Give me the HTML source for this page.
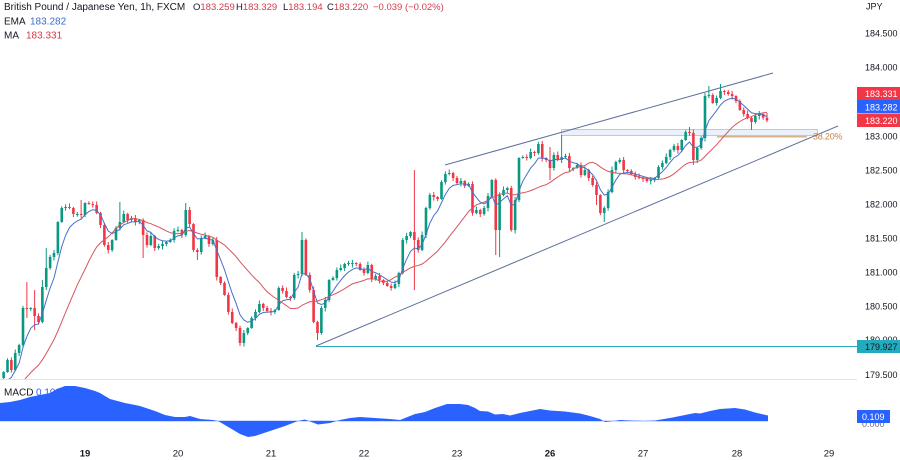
<!DOCTYPE html>
<html><head><meta charset="utf-8">
<style>
html,body{margin:0;padding:0;background:#fff}
body{width:900px;height:460px;overflow:hidden}
svg{display:block}
text{font-family:"Liberation Sans",Arial,sans-serif}
</style></head><body>
<svg id="svg" width="900" height="460" viewBox="0 0 900 460" xmlns="http://www.w3.org/2000/svg">
<defs>
<clipPath id="cm"><rect x="0" y="0" width="857" height="379.5"/></clipPath>
<clipPath id="cb"><rect x="0" y="380" width="857" height="62"/></clipPath>
</defs>
<rect width="900" height="460" fill="#fff"/>

<g clip-path="url(#cm)">
  <rect x="561.5" y="129.5" width="256" height="6" fill="#eaf1fa" stroke="#b9cbe2" stroke-width="1"/>
  <line x1="717" y1="136.8" x2="807" y2="136.8" stroke="#d8b48c" stroke-width="1.5"/>
  <g id="candles"></g>
  <path id="ma" fill="none" stroke="#d6555f" stroke-width="1"/>
  <path id="ema" fill="none" stroke="#4670c8" stroke-width="1"/>
  <line x1="316" y1="346.5" x2="857" y2="346.5" stroke="#2aa9bb" stroke-width="1"/>
  <line x1="445" y1="165" x2="773" y2="73" stroke="#5d6f9c" stroke-width="1"/>
  <line x1="316" y1="346" x2="838" y2="126" stroke="#5d6f9c" stroke-width="1"/>
</g>
<text x="813" y="139.5" font-size="9" letter-spacing="-0.2" fill="#c8843f">38.20%</text>

<!-- legend -->
<text y="10" font-size="10" fill="#131722">
  <tspan x="4">British Pound / Japanese Yen, 1h, FXCM</tspan>
  <tspan x="193" font-size="9.5">O</tspan><tspan fill="#d13b4b" font-size="9.5">183.259</tspan>
  <tspan x="236" font-size="9.5">H</tspan><tspan fill="#d13b4b" font-size="9.5">183.329</tspan>
  <tspan x="283" font-size="9.5">L</tspan><tspan fill="#d13b4b" font-size="9.5">183.194</tspan>
  <tspan x="327" font-size="9.5">C</tspan><tspan fill="#d13b4b" font-size="9.5">183.220</tspan>
  <tspan x="373" fill="#d13b4b" font-size="9.5">−0.039 (−0.02%)</tspan>
</text>
<text x="4" y="24.5" font-size="10" fill="#131722">EMA <tspan x="30" fill="#3a6cc8">183.282</tspan></text>
<text x="4" y="38.5" font-size="10" fill="#131722">MA <tspan x="26" fill="#d13b4b">183.331</tspan></text>

<!-- separator -->
<line x1="0" y1="379.5" x2="857" y2="379.5" stroke="#e0e3eb" stroke-width="1"/>

<!-- right axis -->
<g font-size="9" fill="#131722">
  <text x="866" y="9.5">JPY</text>
  <text x="865" y="36.5">184.500</text>
  <text x="865" y="70.5">184.000</text>
  <text x="865" y="139.5">183.000</text>
  <text x="865" y="173.5">182.500</text>
  <text x="865" y="207.5">182.000</text>
  <text x="865" y="241.5">181.500</text>
  <text x="865" y="275.5">181.000</text>
  <text x="865" y="309.5">180.500</text>
  <text x="865" y="343">180.000</text>
  <text x="865" y="378">179.500</text>
  <text x="862" y="427" fill="#6a6d78">0.000</text>
</g>
<rect x="857" y="87" width="43" height="13" fill="#f23645"/>
<rect x="857" y="100" width="43" height="13.5" fill="#2962ff"/>
<rect x="857" y="114" width="43" height="13" fill="#f23645"/>
<rect x="857" y="340" width="43" height="13" fill="#22abbd"/>
<rect x="857" y="410" width="33" height="13" fill="#2962ff"/>
<g font-size="9">
  <text x="865" y="96.8" fill="#fff">183.331</text>
  <text x="865" y="110.3" fill="#fff">183.282</text>
  <text x="865" y="123.8" fill="#fff">183.220</text>
  <text x="865" y="349.8" fill="#131722">179.927</text>
  <text x="862" y="419.8" fill="#fff">0.109</text>
</g>

<!-- MACD pane -->
<text x="4" y="395.5" font-size="10" fill="#131722">MACD <tspan x="36" fill="#2962ff">0.109</tspan></text>
<g clip-path="url(#cb)">
  <line x1="0" y1="421" x2="768" y2="421" stroke="#9fbaf8" stroke-width="1"/>
  <path id="macd" fill="#2962ff" stroke="none"/>
</g>

<!-- dates -->
<g font-size="9.5" fill="#131722" text-anchor="middle">
  <text x="85" y="456.5" font-weight="bold">19</text>
  <text x="178" y="456.5">20</text>
  <text x="271" y="456.5">21</text>
  <text x="364" y="456.5">22</text>
  <text x="457" y="456.5">23</text>
  <text x="550" y="456.5" font-weight="bold">26</text>
  <text x="643" y="456.5">27</text>
  <text x="737" y="456.5">28</text>
  <text x="829" y="456.5">29</text>
</g>
</svg>
<script>
(function(){
var C=[372,360,370,353,345,308,309,308,316,322,
287,268,257,253,222,208,207,208,214,214,
215,203,204,205,213,225,245,250,240,228,
222,214,220,218,222,220,235,245,236,248,
246,244,242,240,231,230,235,210,224,250,
252,238,236,244,240,277,283,295,312,323,
328,343,333,328,318,312,304,308,311,312,
310,288,291,297,298,275,274,240,275,290,
322,333,308,300,280,278,270,268,264,263,
263,264,270,273,265,279,276,280,283,286,
288,284,273,240,236,232,240,250,235,208,
195,197,199,182,174,173,178,183,181,186,
184,213,210,214,208,196,180,230,195,190,
188,230,200,158,157,158,152,153,144,158,
160,168,155,160,157,156,168,168,165,175,
170,178,185,195,213,208,192,170,162,160,
170,171,174,177,178,179,181,180,178,167,
163,157,150,146,150,140,132,133,160,148,
138,96,95,103,98,91,92,94,96,101,
110,114,118,122,116,114,117.7,120.4];
var S={6:[282,318],8:[290,330],10:[280,null],11:[248,null],20:[200,null],30:[202,null],36:[null,258],47:[203,null],50:[null,260],61:[null,346],77:[232,null],81:[null,340],106:[170,290],127:[null,255],128:[null,257],141:[147,180],144:[135,null],153:[null,205],155:[null,222],177:[127,null],178:[null,165],182:[86,null],185:[84,null],193:[null,130],197:[112.9,122.2]};
var X0=3.625,DX=3.875,G="#089981",R="#f23645";
var h="",prev=378;
for(var i=0;i<C.length;i++){
  var x=X0+DX*i,c=C[i],o=prev;prev=c;
  var col=(c<=o)?G:R;
  var top=Math.min(o,c),bot=Math.max(o,c);
  if(bot-top<1){bot=top+1;}
  var hi=top-(0.8+((i*37)%7)*0.45),lo=bot+(0.8+((i*53+3)%7)*0.45);
  if(S[i]){ if(S[i][0]!==null)hi=S[i][0]; if(S[i][1]!==null)lo=S[i][1]; }
  h+='<line x1="'+x.toFixed(2)+'" x2="'+x.toFixed(2)+'" y1="'+hi.toFixed(2)+'" y2="'+lo.toFixed(2)+'" stroke="'+col+'" stroke-width="1"/>';
  h+='<rect x="'+(x-1.3).toFixed(2)+'" y="'+top.toFixed(2)+'" width="2.6" height="'+(bot-top).toFixed(2)+'" fill="'+col+'"/>';
}
document.getElementById('candles').innerHTML=h;
var a=2/7,e=395,pe="";
for(var i=0;i<C.length;i++){e=e+a*(C[i]-e);var x=X0+DX*i;pe+=(i?"L":"M")+x.toFixed(2)+" "+e.toFixed(2)+" ";}
document.getElementById('ema').setAttribute('d',pe);
var pm="",ext=[];for(var k=0;k<19;k++)ext.push(394);ext=ext.concat(C);
for(var i=0;i<C.length;i++){var s=0;for(var k=i;k<i+20;k++)s+=ext[k];var m=s/20;var x=X0+DX*i;pm+=(i?"L":"M")+x.toFixed(2)+" "+m.toFixed(2)+" ";}
document.getElementById('ma').setAttribute('d',pm);
var P=[[0,403],[10,402],[20,400],[30,397],[40,395],[50,393],[57,389],[65,386],[75,386],[85,388],[95,391],[100,393],[110,399],[125,403],[140,406],[155,411],[165,415],[175,417],[185,417],[190,416],[200,419],[213,420],[218,421],[230,428],[240,434],[248,437],[255,436],[270,431],[285,426],[298,421],[305,419.5],[310,421.5],[318,424.5],[330,423],[340,420],[350,418],[360,417],[375,418],[390,419],[400,420],[410,416],[415,414],[425,412],[435,408],[447,404],[460,404],[468,405],[475,408],[480,411],[488,411.5],[495,414.5],[503,414],[510,415.5],[520,413],[530,411],[540,409],[550,410.5],[565,411.5],[580,413.5],[590,416],[600,419],[605,422],[610,421.5],[620,420],[630,420.5],[645,421],[655,420.5],[670,418],[685,415],[695,413],[700,413.5],[710,411],[720,409],[735,408],[745,409.5],[755,412.5],[768,415.5]];
var d="M0 421 ";for(var j=0;j<P.length;j++)d+="L"+P[j][0]+" "+P[j][1]+" ";d+="L768 421 Z";
document.getElementById('macd').setAttribute('d',d);
})();
</script>
</body></html>
